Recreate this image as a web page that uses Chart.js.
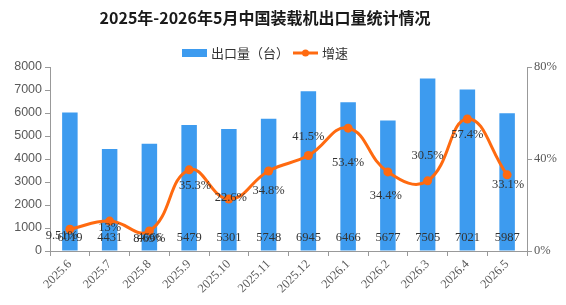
<!DOCTYPE html>
<html>
<head>
<meta charset="utf-8">
<script src="https://cdn.jsdelivr.net/npm/chart.js@4.4.0/dist/chart.umd.min.js"></script>
<style>
  body { margin: 0; background: #fff; }
  #wrap { width: 566px; height: 305px; }
</style>
</head>
<body>
<div id="wrap"><canvas id="exportChart" width="566" height="305"></canvas></div>
<script>
var months = ["2025.6", "2025.7", "2025.8", "2025.9", "2025.10", "2025.11", "2025.12", "2026.1", "2026.2", "2026.3", "2026.4", "2026.5"];
var exportVolume = [6019, 4431, 4666, 5479, 5301, 5748, 6945, 6466, 5677, 7505, 7021, 5987];
var growthRate = [9.51, 13, 8.69, 35.3, 22.6, 34.8, 41.5, 53.4, 34.4, 30.5, 57.4, 33.1];
var volumeTicks = [0, 1000, 2000, 3000, 4000, 5000, 6000, 7000, 8000];
var rateTicks = [0, 40, 80];

// where each growth label sits relative to its point (styling only)
var rateLabelShift = [[-8, 7], [0, 7], [0, 8], [6, 16], [2, -1], [0, 20], [0, -19], [0, 35], [-2, 24], [0, -25], [0, 16], [1, 10]];

var titleText = "2025年-2026年5月中国装载机出口量统计情况";
var barColor = "#3d9bef";
var lineColor = "#ff6a10";

var headerPlugin = {
    id: 'header',
    afterDraw: function (chart) {
        var ctx = chart.ctx;
        var cx = 265;
        ctx.save();
        ctx.fillStyle = '#1a1a1a';
        ctx.textAlign = 'center';
        ctx.textBaseline = 'middle';
        ctx.font = 'bold 16px "Noto Sans CJK SC"';
        ctx.fillText(titleText, cx, 18);

        // legend
        ctx.font = '13px "Noto Sans CJK SC"';
        ctx.textAlign = 'left';
        var t1 = '出口量（台）', t2 = '增速';
        var w1 = ctx.measureText(t1).width, w2 = ctx.measureText(t2).width;
        var total = 25 + 4 + w1 + 4 + 25 + 4 + w2;
        var x = cx - total / 2;
        var ly = 53;
        ctx.fillStyle = barColor;
        ctx.fillRect(x, ly - 4, 25, 8);
        x += 29;
        ctx.fillStyle = '#333';
        ctx.fillText(t1, x, ly);
        x += w1 + 4;
        ctx.strokeStyle = lineColor;
        ctx.lineWidth = 3;
        ctx.beginPath();
        ctx.moveTo(x, ly);
        ctx.lineTo(x + 25, ly);
        ctx.stroke();
        ctx.fillStyle = lineColor;
        ctx.beginPath();
        ctx.arc(x + 12.5, ly, 3.5, 0, Math.PI * 2);
        ctx.fill();
        x += 29;
        ctx.fillStyle = '#333';
        ctx.fillText(t2, x, ly);
        ctx.restore();
    }
};

var valueLabelPlugin = {
    id: 'valueLabels',
    afterDatasetsDraw: function (chart) {
        var ctx = chart.ctx;
        var yScale = chart.scales.y;
        var bars = chart.getDatasetMeta(0).data;
        var points = chart.getDatasetMeta(1).data;
        ctx.save();
        ctx.font = '12.5px "Liberation Serif"';
        ctx.fillStyle = '#333';
        ctx.textAlign = 'center';
        ctx.textBaseline = 'middle';
        bars.forEach(function (el, i) {
            ctx.fillText(String(exportVolume[i]), el.x, yScale.bottom - 13);
        });
        points.forEach(function (el, i) {
            var s = rateLabelShift[i];
            ctx.fillText(growthRate[i] + '%', el.x + s[0], el.y + s[1]);
        });
        ctx.restore();
    }
};

var ctx = document.getElementById("exportChart").getContext('2d');
var exportChart = new Chart(ctx, {
    type: 'bar',
    data: {
        labels: months,
        datasets: [{
            type: 'bar',
            label: '出口量（台）',
            data: exportVolume,
            backgroundColor: barColor,
            barPercentage: 0.78,
            categoryPercentage: 0.5,
            yAxisID: 'y',
            order: 2
        }, {
            type: 'line',
            label: '增速',
            data: growthRate,
            borderColor: lineColor,
            backgroundColor: lineColor,
            borderWidth: 3,
            pointRadius: 4.5,
            pointBackgroundColor: lineColor,
            pointBorderWidth: 0,
            tension: 0.45,
            yAxisID: 'y1',
            order: 1
        }]
    },
    options: {
        responsive: false,
        animation: false,
        layout: { padding: { top: 67, left: 0, right: 0, bottom: 0 } },
        plugins: {
            legend: { display: false },
            title: { display: false },
            tooltip: { enabled: false }
        },
        scales: {
            x: {
                offset: true,
                grid: { offset: true, drawOnChartArea: false, color: '#999', tickLength: 5 },
                border: { color: '#999' },
                ticks: {
                    maxRotation: 45, minRotation: 45,
                    color: '#595959',
                    font: { family: 'Liberation Serif', size: 12.5 },
                    padding: 1
                },
                afterFit: function (scale) { scale.height = 54; }
            },
            y: {
                position: 'left',
                min: 0, max: 8000,
                afterBuildTicks: function (scale) {
                    scale.ticks = volumeTicks.map(function (v) { return { value: v }; });
                },
                grid: { drawOnChartArea: false, color: '#999', tickLength: 5 },
                border: { color: '#999' },
                ticks: {
                    color: '#595959',
                    font: { family: 'Liberation Sans', size: 12.5 },
                    padding: 3,
                    callback: function (v) { return String(v); }
                },
                afterFit: function (scale) { scale.width = 50; }
            },
            y1: {
                position: 'right',
                min: 0, max: 80,
                afterBuildTicks: function (scale) {
                    scale.ticks = rateTicks.map(function (v) { return { value: v }; });
                },
                grid: { drawOnChartArea: false, color: '#999', tickLength: 5 },
                border: { color: '#999' },
                ticks: {
                    color: '#595959',
                    font: { family: 'Liberation Serif', size: 12.5 },
                    padding: 2,
                    callback: function (v) { return v + '%'; }
                },
                afterFit: function (scale) { scale.width = 39; }
            }
        }
    },
    plugins: [headerPlugin, valueLabelPlugin]
});
</script>
</body>
</html>
